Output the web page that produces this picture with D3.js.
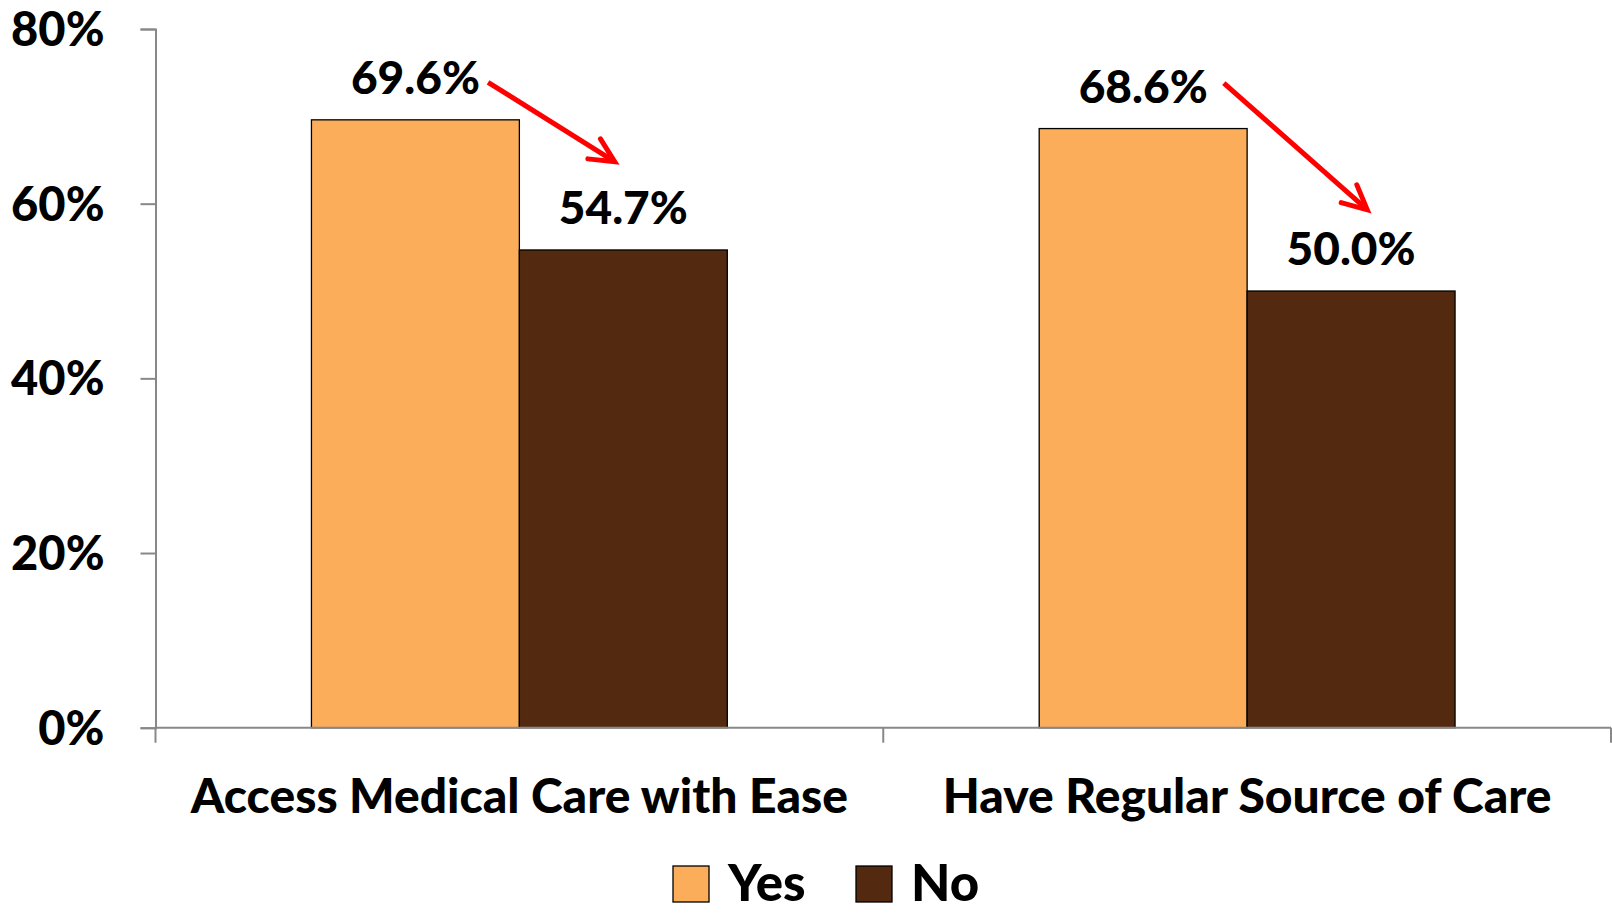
<!DOCTYPE html>
<html>
<head>
<meta charset="utf-8">
<script src="https://cdn.jsdelivr.net/npm/d3@7/dist/d3.min.js"></script>
<style>
  html, body { margin: 0; padding: 0; background: #ffffff; }
  svg { display: block; }
  text { font-family: Lato, "Open Sans", "DejaVu Sans", sans-serif; font-weight: 900; fill: #000; }
</style>
</head>
<body>
<svg id="chart" width="1612" height="913"></svg>
<script>
// Share of respondents, by measure and answer
const categories = ["Access Medical Care with Ease", "Have Regular Source of Care"];
const seriesNames = ["Yes", "No"];
const yesValues = [69.6, 68.6];
const noValues = [54.7, 50.0];
const yTicks = [0, 20, 40, 60, 80];

// Drop arrows: position inside the category band (0..1) and height in % units
const arrows = [
  { category: categories[0], fromPos: 0.457, fromValue: 73.9, toPos: 0.631, toValue: 64.8 },
  { category: categories[1], fromPos: 0.468, fromValue: 73.8, toPos: 0.665, toValue: 59.3 }
];

const colors = { Yes: "#FBAD5A", No: "#532A0F" };

const svg = d3.select("#chart");
const W = 1612, H = 913;
const margin = { left: 155.5, right: 1, top: 29, bottom: 185.3 };
const plotW = W - margin.left - margin.right;
const plotH = H - margin.top - margin.bottom;

const rows = categories.map((c, i) => ({ category: c, Yes: yesValues[i], No: noValues[i] }));

const x0 = d3.scaleBand().domain(categories).range([0, plotW]).paddingInner(0).paddingOuter(0);
// Gap between bar groups is 150% of one bar's width
const gapWidth = 1.5;
const groupW = x0.bandwidth() * seriesNames.length / (seriesNames.length + gapWidth);
const x1 = d3.scaleBand().domain(seriesNames)
  .range([(x0.bandwidth() - groupW) / 2, (x0.bandwidth() + groupW) / 2]);
const y = d3.scaleLinear().domain([0, 80]).range([plotH, 0]);

const g = svg.append("g").attr("transform", `translate(${margin.left},${margin.top})`);

// Bars
const groups = g.selectAll("g.cat").data(rows).join("g")
  .attr("class", "cat")
  .attr("transform", d => `translate(${x0(d.category)},0)`);

groups.selectAll("rect").data(d => seriesNames.map(s => ({ key: s, value: d[s] }))).join("rect")
  .attr("x", d => x1(d.key))
  .attr("y", d => y(d.value))
  .attr("width", x1.bandwidth())
  .attr("height", d => plotH - y(d.value))
  .attr("fill", d => colors[d.key])
  .attr("stroke", "#000")
  .attr("stroke-width", 1.3);

// Value labels
groups.selectAll("text.val").data(d => seriesNames.map(s => ({ key: s, value: d[s] }))).join("text")
  .attr("class", "val")
  .attr("x", d => x1(d.key) + x1.bandwidth() / 2)
  .attr("y", d => y(d.value) - 26)
  .attr("text-anchor", "middle")
  .style("font-size", "46px")
  .text(d => d.value.toFixed(1) + "%");

// Y axis
const yAxis = d3.axisLeft(y).tickValues(yTicks).tickSize(15).tickPadding(36)
  .tickFormat(d => d + "%");
const ya = g.append("g").call(yAxis);
ya.select(".domain").attr("stroke", "#888").attr("stroke-width", 2);
ya.selectAll(".tick line").attr("stroke", "#888").attr("stroke-width", 2);
ya.selectAll(".tick text").style("font-size", "47px").attr("dy", "0.35em")
  .attr("font-family", null);

// X axis with tick marks at band boundaries
const xa = g.append("g").attr("transform", `translate(0,${plotH})`);
xa.append("line").attr("x1", 0).attr("x2", plotW)
  .attr("stroke", "#888").attr("stroke-width", 2);
const boundaries = [0].concat(categories.map(c => x0(c) + x0.bandwidth()));
xa.selectAll("line.tk").data(boundaries).join("line")
  .attr("class", "tk")
  .attr("x1", d => d).attr("x2", d => d)
  .attr("y1", 0).attr("y2", 15)
  .attr("stroke", "#888").attr("stroke-width", 2);
xa.selectAll("text.cat").data(categories).join("text")
  .attr("class", "cat")
  .attr("x", d => x0(d) + x0.bandwidth() / 2)
  .attr("y", 85)
  .attr("text-anchor", "middle")
  .style("font-size", "48px")
  .text(d => d);

// Red drop arrows
const arrowG = g.append("g");
arrows.forEach(a => {
  const bx = x0(a.category), bw = x0.bandwidth();
  const sx = bx + a.fromPos * bw, sy = y(a.fromValue);
  const tx = bx + a.toPos * bw, ty = y(a.toValue);
  const ang = Math.atan2(ty - sy, tx - sx);
  const headLen = 27, spread = 26 * Math.PI / 180;
  arrowG.append("line")
    .attr("x1", sx).attr("y1", sy).attr("x2", tx - 2 * Math.cos(ang)).attr("y2", ty - 2 * Math.sin(ang))
    .attr("stroke", "#FF0000").attr("stroke-width", 5);
  const p1 = [tx - headLen * Math.cos(ang - spread), ty - headLen * Math.sin(ang - spread)];
  const p2 = [tx - headLen * Math.cos(ang + spread), ty - headLen * Math.sin(ang + spread)];
  arrowG.append("path")
    .attr("d", `M${p1[0]},${p1[1]}L${tx},${ty}L${p2[0]},${p2[1]}`)
    .attr("fill", "none").attr("stroke", "#FF0000").attr("stroke-width", 5)
    .attr("stroke-linejoin", "miter").attr("stroke-linecap", "round");
});

// Legend
const legend = svg.append("g").attr("transform", "translate(673,866)");
const legendItems = legend.selectAll("g").data(seriesNames).join("g")
  .attr("transform", (d, i) => `translate(${i * 183},0)`);
legendItems.append("rect")
  .attr("width", 36).attr("height", 36)
  .attr("fill", d => colors[d]).attr("stroke", "#000").attr("stroke-width", 1.3);
legendItems.append("text")
  .attr("x", 55).attr("y", 35)
  .style("font-size", "51px")
  .text(d => d);
</script>
</body>
</html>
